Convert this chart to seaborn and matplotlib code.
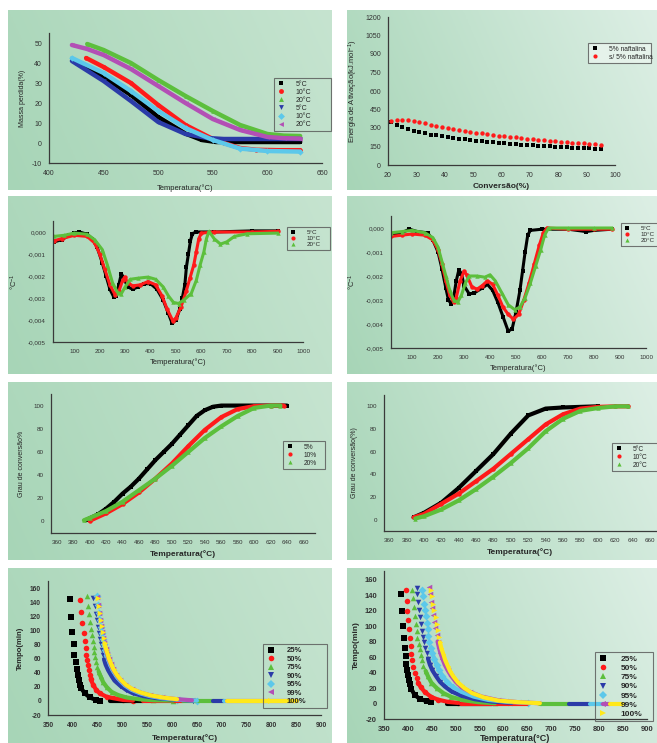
import matplotlib
matplotlib.use("Agg")
import matplotlib.pyplot as plt
from matplotlib.lines import Line2D
from matplotlib.ticker import MultipleLocator, FuncFormatter
import numpy as np
import pandas as pd
import seaborn as sns

W, H = 657, 743

BLACK, RED, GREEN = "#000000", "#ff1a1a", "#5cbf3c"
BLUE, CYAN, MAGENTA, YELLOW = "#2b3ba8", "#5cc8ea", "#b34fb5", "#ffe81a"

# --- panel 1: mass loss vs temperature ---
MASS_LABELS = ["5°C", "10°C", "20°C", "5°C", "10°C", "20°C"]
MASS_T_5A = [425, 450, 475, 500, 525, 540, 553, 580, 630]
MASS_5A = [40, 33, 24, 13, 4.7, 1.5, 0.5, 0.5, 0.5]
MASS_T_10A = [434, 450, 475, 500, 525, 550, 560, 575, 590, 610, 630]
MASS_10A = [42.5, 38, 30, 19, 9, 2, 0, -2.5, -3.4, -3.6, -3.6]
MASS_T_20A = [435, 450, 475, 500, 525, 550, 575, 600, 615, 630]
MASS_20A = [49.5, 46.5, 40, 31.5, 23.5, 16, 9, 4.5, 3.7, 3.5]
MASS_T_5B = [421, 450, 475, 500, 525, 545, 560, 630]
MASS_5B = [41, 31, 21, 10.5, 4.5, 2.5, 2, 2]
MASS_T_10B = [421, 450, 475, 500, 525, 550, 575, 600, 630]
MASS_10B = [42.5, 35, 26, 16, 7.5, 1.5, -2.8, -4, -4.3]
MASS_T_20B = [421, 435, 450, 475, 500, 525, 550, 575, 600, 615, 630]
MASS_20B = [49, 47, 44, 37, 28.5, 20, 12, 6.5, 3, 2.4, 2.2]

# --- panel 2: activation energy vs conversion ---
CONV = list(range(21, 96, 2))
EA_NAFT = [350, 325, 305, 290, 278, 267, 257, 247, 240, 233, 225, 220, 213, 207,
           201, 196, 192, 188, 184, 180, 176, 172, 169, 166, 163, 160, 157, 154,
           151, 148, 146, 143, 141, 138, 136, 134, 132, 130]
EA_SEM = [358, 368, 368, 365, 358, 348, 338, 328, 318, 309, 300, 292, 284, 276,
          269, 262, 256, 250, 244, 238, 233, 228, 223, 218, 213, 209, 204, 200,
          196, 192, 188, 185, 181, 178, 175, 172, 169, 166]

# --- panel 3: DTG (values in 1e-3 /°C) ---
DTG_A_T5 = [20, 50, 80, 100, 120, 150, 170, 190, 210, 225, 240, 255, 265, 275, 285,
            295, 310, 330, 350, 375, 400, 425, 450, 470, 485, 500, 515, 525, 535,
            541, 549, 557, 565, 580, 650, 800, 900]
DTG_A_5 = [-0.45, -0.35, -0.15, -0.05, 0.0, -0.1, -0.3, -0.7, -1.4, -2.0, -2.6,
           -2.95, -2.9, -2.4, -1.9, -2.1, -2.5, -2.6, -2.5, -2.35, -2.35, -2.6,
           -3.1, -3.7, -4.15, -4.0, -3.5, -3.0, -2.4, -1.6, -1.0, -0.4, -0.07,
           0.0, 0.0, 0.05, 0.05]
DTG_A_T10 = [20, 50, 100, 150, 180, 200, 220, 240, 260, 275, 290, 298, 310, 330,
             360, 390, 420, 445, 465, 488, 500, 520, 540, 555, 570, 580, 590, 600,
             650, 800, 900]
DTG_A_10 = [-0.4, -0.3, -0.15, -0.2, -0.5, -1.0, -1.7, -2.4, -2.85, -2.7, -2.2,
            -2.05, -2.3, -2.45, -2.4, -2.25, -2.4, -2.9, -3.5, -4.05, -3.9, -3.4,
            -2.7, -2.1, -1.5, -0.9, -0.3, -0.05, 0.0, 0.0, 0.03]
DTG_A_T20 = [20, 60, 100, 150, 180, 210, 230, 250, 270, 285, 300, 320, 350, 390,
             420, 450, 470, 490, 510, 530, 560, 580, 595, 610, 620, 630, 650, 675,
             700, 730, 780, 900]
DTG_A_20 = [-0.2, -0.15, -0.05, -0.1, -0.35, -0.8, -1.5, -2.3, -2.75, -2.8, -2.5,
            -2.15, -2.1, -2.05, -2.15, -2.5, -2.9, -3.2, -3.25, -3.1, -2.8, -2.2,
            -1.5, -0.9, -0.3, 0.03, -0.3, -0.55, -0.45, -0.2, -0.08, -0.05]

# --- panel 4: DTG second sample ---
DTG_B_T5 = [20, 60, 90, 120, 160, 180, 200, 215, 230, 240, 250, 260, 270, 280, 290,
            300, 320, 340, 370, 390, 410, 430, 450, 470, 485, 500, 515, 525, 535,
            545, 555, 600, 700, 770, 800, 870]
DTG_B_5 = [-0.3, -0.2, -0.05, -0.15, -0.2, -0.5, -1.0, -1.7, -2.5, -3.0, -3.15,
           -2.9, -2.2, -1.75, -1.9, -2.4, -2.75, -2.7, -2.5, -2.35, -2.6, -3.1,
           -3.7, -4.3, -4.2, -3.5, -2.6, -1.8, -1.0, -0.3, -0.1, -0.05, -0.05,
           -0.15, -0.1, -0.05]
DTG_B_T10 = [20, 60, 100, 150, 180, 200, 215, 230, 245, 260, 270, 285, 300, 310,
             330, 350, 370, 390, 410, 430, 450, 470, 490, 510, 530, 550, 570, 590,
             605, 620, 700, 800, 870]
DTG_B_10 = [-0.35, -0.3, -0.25, -0.3, -0.5, -0.9, -1.5, -2.2, -2.8, -3.1, -2.9,
            -2.2, -1.8, -1.95, -2.45, -2.55, -2.4, -2.2, -2.35, -2.8, -3.3, -3.6,
            -3.8, -3.6, -3.0, -2.3, -1.5, -0.7, -0.2, 0.0, -0.05, -0.05, -0.05]
DTG_B_T20 = [20, 60, 100, 150, 180, 200, 215, 230, 245, 260, 275, 290, 305, 320,
             350, 380, 400, 420, 445, 470, 495, 515, 535, 555, 575, 595, 610, 625,
             700, 800, 870]
DTG_B_20 = [-0.2, -0.15, -0.1, -0.2, -0.4, -0.8, -1.4, -2.0, -2.6, -3.0, -3.1,
            -2.8, -2.3, -2.0, -2.0, -2.05, -1.95, -2.2, -2.7, -3.2, -3.4, -3.3,
            -2.9, -2.3, -1.6, -0.9, -0.3, 0.0, 0.0, 0.0, 0.0]

# --- panel 5 / 6: degree of conversion ---
CONV_A_T5 = [395, 410, 420, 430, 440, 450, 460, 470, 480, 490, 500, 510, 520, 530,
             540, 550, 560, 600, 640]
CONV_A_5 = [1, 6, 11, 17, 24, 30, 37, 45, 53, 60, 67, 75, 83, 91, 96, 99, 100, 100, 100]
CONV_A_T10 = [400, 420, 440, 460, 480, 500, 520, 540, 560, 580, 600, 620, 636]
CONV_A_10 = [0.5, 7, 15, 25, 37, 50, 65, 79, 90, 97, 99.5, 100, 100]
CONV_A_T20 = [393, 400, 420, 440, 460, 480, 500, 520, 540, 560, 580, 600, 620, 632]
CONV_A_20 = [1, 3, 9, 17, 27, 37, 48, 60, 72, 82, 91, 98, 100, 100]

CONV_B_T5 = [388, 400, 420, 440, 460, 480, 500, 520, 540, 560, 600]
CONV_B_5 = [2, 6, 15, 28, 43, 58, 76, 92, 98, 99, 100]
CONV_B_T10 = [388, 400, 420, 440, 460, 480, 500, 520, 540, 560, 580, 600, 620, 635]
CONV_B_10 = [2, 5, 14, 23, 34, 45, 58, 71, 84, 93, 98, 99.5, 100, 100]
CONV_B_T20 = [390, 400, 420, 440, 460, 480, 500, 520, 540, 560, 580, 600, 620, 635]
CONV_B_20 = [1, 3, 9, 17, 27, 38, 50, 63, 78, 89, 96, 98.5, 100, 100]

# --- panel 7 / 8: time to reach conversion ---
TIME_LABELS = ["25%", "50%", "75%", "90%", "95%", "99%", "100%"]
TA_T25 = [395, 397, 399, 402, 403, 406, 408, 410, 412, 414, 417, 424, 434, 447, 454]
TA_25 = [146, 120, 98, 81, 66, 55, 45, 37, 30, 23, 18, 11, 5, 1.4, 0.5]
TA_T50 = [415, 417, 419, 422, 424, 426, 427, 429, 431, 433, 434, 436, 441, 447, 454,
          468, 481, 501, 521]
TA_50 = [144, 127, 111, 97, 85, 75, 66, 58, 51, 44, 37, 31, 23, 16, 11, 6, 4, 1.5, 0.5]
TA_T75 = [429, 431, 433, 434, 436, 438, 440, 442, 443, 445, 447, 449, 452, 456, 461,
          468, 478, 491, 508, 535, 562, 602]
TA_75 = [150, 136, 124, 113, 103, 94, 85, 77, 70, 63, 56, 49, 42, 35, 27, 20, 13,
         8.5, 5, 2.4, 1, 0.5]
TA_T90 = [441, 444, 446, 448, 450, 452, 454, 456, 458, 460, 463, 466, 471, 478, 484,
          495, 508, 521, 542, 569, 602, 642]
TA_90 = [147, 136, 124, 115, 105, 97, 89, 81, 73, 66, 59, 52, 44, 35.5, 29, 22,
         15.6, 11, 7, 4, 2, 0.5]
TA_T95 = [448, 450, 452, 454, 456, 458, 460, 462, 465, 468, 471, 475, 480, 487, 495,
          505, 518, 535, 555, 580, 610, 650]
TA_95 = [149, 137, 126, 116, 106, 97, 89, 81, 73, 66, 59, 52, 44, 36, 29, 22, 16,
         11, 7, 4, 2, 0.5]
TA_T99 = [449, 451, 453, 455, 457, 459, 461, 463, 466, 469, 472, 476, 481, 488, 496,
          506, 519, 536, 556, 580, 610, 640]
TA_99 = [148, 137, 126, 116, 107, 98, 90, 82, 74, 67, 60, 53, 45, 37, 30, 23, 17,
         12, 8, 5, 2.5, 1]
TA_T100 = [450, 452, 454, 456, 458, 460, 462, 464, 467, 470, 473, 477, 482, 489, 497,
           507, 520, 537, 557, 581, 610]
TA_100 = [147, 136, 126, 116, 107, 98, 90, 82, 74, 67, 60, 53, 45, 37, 30, 23, 17,
          12, 8, 5, 2.5]
TA_TAIL_START = [474, 542, 622, 683, 704, 710, 710]
TA_TAIL_END = [542, 622, 683, 704, 710, 851, 851]

TB_T25 = [385, 388, 390, 392, 393, 395, 396, 398, 400, 402, 404, 407, 414, 425, 439, 449]
TB_25 = [141, 119, 100, 84, 71, 61, 51, 43, 37, 30, 25, 19, 11, 6, 3, 1.7]
TB_T50 = [395, 398, 399, 400, 402, 404, 406, 407, 409, 411, 414, 418, 421, 427, 435,
          449, 463, 484, 505]
TB_50 = [146, 132, 120, 108, 96, 84, 74, 64, 56, 47, 40, 33, 27, 21, 15, 8.4, 5, 2, 0.8]
TB_T75 = [409, 411, 412, 414, 416, 418, 420, 423, 425, 427, 430, 432, 437, 442, 449,
          460, 474, 491, 516, 547, 582]
TB_75 = [147, 136, 124, 113, 102, 94, 85, 77, 70, 63, 56, 49, 42, 35, 27, 20, 13.5,
         8.4, 4.2, 1.7, 0.4]
TB_T90 = [418, 420, 422, 424, 425, 428, 430, 432, 434, 436, 439, 442, 446, 451, 458,
          467, 477, 491, 512, 540, 575, 617]
TB_90 = [149, 141, 131, 121, 112, 103, 94, 86, 79, 72, 65, 58, 50, 43, 36, 28, 22,
         15.6, 10, 5.5, 2.5, 0.8]
TB_T95 = [430, 432, 433, 435, 437, 439, 441, 443, 445, 448, 451, 455, 460, 465, 472,
          482, 495, 512, 537, 568, 610, 652]
TB_95 = [146, 139, 129, 121, 113, 104, 96, 87, 80, 72, 65, 58, 50, 43, 36, 28, 21,
         15, 9, 4.6, 2, 0.8]
TB_T99 = [444, 447, 449, 451, 453, 455, 457, 460, 462, 465, 468, 472, 477, 483, 490,
          500, 512, 530, 554, 589, 631, 673]
TB_99 = [150, 141, 131, 123, 114, 105, 97, 88, 80, 72, 65, 58, 50, 43, 36, 28, 21,
         15, 9, 4.2, 1.7, 0.4]
TB_T100 = [449, 451, 453, 455, 458, 460, 462, 465, 467, 470, 474, 478, 483, 488, 495,
           505, 518, 534, 558, 589, 631, 676]
TB_100 = [147, 139, 129, 121, 112, 103, 95, 86, 79, 71, 64, 56, 49, 42, 35, 27, 20,
          13.5, 8, 3.8, 1.7, 0.4]
TB_TAIL_START = [481, 510, 676, 736, 781, 809, 823]
TB_TAIL_END = [575, 650, 736, 781, 809, 823, 848]
TAIL_LEVEL = 0.0

TIME_COLORS = [BLACK, RED, GREEN, BLUE, CYAN, MAGENTA, YELLOW]
TIME_MARKERS = ["s", "o", "^", "v", "D", "<", ">"]
DENSE_BELOW = [22, 32, 45, 60, 75, 80, 85]


def fig_rect(x0, y0, x1, y1):
    return [x0 / W, 1 - y1 / H, (x1 - x0) / W, (y1 - y0) / H]


def panel_background(fig, box, right_colour):
    bg = fig.add_axes(fig_rect(*box), zorder=-5)
    u = np.linspace(0, 1, 120)[None, :]
    v = np.linspace(0, 1, 80)[:, None]
    t = np.clip(0.8 * u + 0.2 * (1 - v), 0, 1)[..., None]
    c0 = np.array(matplotlib.colors.to_rgb("#a7d5b7"))
    c1 = np.array(matplotlib.colors.to_rgb(right_colour))
    bg.imshow(c0 * (1 - t) + c1 * t, aspect="auto", extent=(0, 1, 0, 1))
    bg.set_axis_off()


def style_axes(ax, xlim, ylim, xmaj, xmin, ymaj, ymin, fs=5, bold=False):
    ax.set_facecolor("none")
    ax.set_xlim(*xlim)
    ax.set_ylim(*ylim)
    ax.xaxis.set_major_locator(MultipleLocator(xmaj))
    ax.xaxis.set_minor_locator(MultipleLocator(xmin))
    ax.yaxis.set_major_locator(MultipleLocator(ymaj))
    ax.yaxis.set_minor_locator(MultipleLocator(ymin))
    for s in ("top", "right"):
        ax.spines[s].set_visible(False)
    for s in ("left", "bottom"):
        ax.spines[s].set_color("#3a3a3a")
        ax.spines[s].set_linewidth(0.9)
    ax.tick_params(which="both", direction="out", color="#3a3a3a", width=0.7,
                   labelsize=fs, labelcolor="#333333", pad=2)
    ax.tick_params(which="major", length=3)
    ax.tick_params(which="minor", length=1.6)
    ax.grid(False)
    if bold:
        for lab in ax.get_xticklabels() + ax.get_yticklabels():
            lab.set_fontweight("bold")


def curve(ax, T, Y, colour, marker, lw=3.0, ms=3.2):
    sns.lineplot(x=T, y=Y, ax=ax, color=colour, lw=lw, marker=marker,
                 markersize=ms, markeredgewidth=0, sort=False, estimator=None)


def add_legend(fig, ax, labels, colours, markers, box, fs=5, bold=False, ms=3.5,
               face="none"):
    handles = [Line2D([], [], ls="none", marker=m, color=c, markersize=ms,
                      markeredgewidth=0) for c, m in zip(colours, markers)]
    x0, y0, x1, y1 = box
    leg = ax.legend(handles, labels, loc="upper left",
                    bbox_to_anchor=(x0 / W, 1 - y0 / H, (x1 - x0) / W, (y0 - y1) / H),
                    bbox_transform=fig.transFigure, mode="expand", frameon=True,
                    fontsize=fs, handlelength=1.2, handletextpad=1.5,
                    borderpad=0.4, labelspacing=0.15, borderaxespad=0)
    leg.get_frame().set_edgecolor("#555555")
    leg.get_frame().set_facecolor(face)
    leg.get_frame().set_linewidth(0.8)
    leg.get_frame().set_boxstyle("square", pad=0)
    if bold:
        for t in leg.get_texts():
            t.set_fontweight("bold")
    return leg


def decay_panel(ax, series, starts, ends):
    for (T, Y), c, m, cut, t0, t1 in zip(series, TIME_COLORS, TIME_MARKERS,
                                         DENSE_BELOW, starts, ends):
        df = pd.DataFrame({"T": T, "t": Y})
        dense = df[df["t"] <= cut]
        sns.lineplot(data=dense, x="T", y="t", ax=ax, color=c, lw=3.0,
                     sort=False, estimator=None)
        sns.scatterplot(data=df, x="T", y="t", ax=ax, color=c, marker=m, s=16,
                        linewidth=0)
        sns.lineplot(x=[t0, t1], y=[TAIL_LEVEL, TAIL_LEVEL], ax=ax, color=c, lw=3.0)


def main():
    sns.set_theme(style="white")
    plt.rcParams["font.family"] = ["Liberation Sans", "DejaVu Sans"]
    plt.rcParams["axes.unicode_minus"] = False
    plt.rcParams["mathtext.default"] = "regular"

    fig = plt.figure(figsize=(W / 100, H / 100), dpi=100)
    fig.patch.set_facecolor("white")

    panels = [(8, 10, 332, 190), (347, 10, 657, 190),
              (8, 196, 332, 374), (347, 196, 657, 374),
              (8, 382, 332, 560), (347, 382, 657, 560),
              (8, 568, 332, 743), (347, 568, 657, 743)]
    for i, box in enumerate(panels):
        panel_background(fig, box, "#c6e4d0" if i % 2 == 0 else "#ddefe5")

    # panel 1
    ax = fig.add_axes(fig_rect(49, 33, 322, 163))
    mass = [(MASS_T_5A, MASS_5A), (MASS_T_10A, MASS_10A), (MASS_T_20A, MASS_20A),
            (MASS_T_5B, MASS_5B), (MASS_T_10B, MASS_10B), (MASS_T_20B, MASS_20B)]
    cols = [BLACK, RED, GREEN, BLUE, CYAN, MAGENTA]
    marks = ["s", "o", "^", "v", "D", "<"]
    for (T, Y), c, m in zip(mass, cols, marks):
        curve(ax, T, Y, c, m, lw=3.2)
    style_axes(ax, (400, 650), (-10, 55), 50, 25, 10, 5)
    ax.set_xlabel("Temperatura(°C)", fontsize=5.5, labelpad=5)
    ax.set_ylabel("Massa perdida(%)", fontsize=5, labelpad=4)
    add_legend(fig, ax, MASS_LABELS, cols, marks, (274, 15, 331, 78))

    # panel 2
    ax = fig.add_axes(fig_rect(388, 17, 615, 165))
    sns.scatterplot(x=CONV, y=EA_NAFT, ax=ax, color=BLACK, marker="s", s=12, linewidth=0)
    sns.scatterplot(x=CONV, y=EA_SEM, ax=ax, color=RED, marker="o", s=10, linewidth=0)
    style_axes(ax, (20, 100), (0, 1200), 10, 5, 150, 75)
    ax.set_xlabel("Conversão(%)", fontsize=6, fontweight="bold", labelpad=3)
    ax.set_ylabel("Energia de Ativação(kJ.mol$^{-1}$)", fontsize=5.5, labelpad=4)
    add_legend(fig, ax, ["5% naftalina", "s/ 5% naftalina"], [BLACK, RED], ["s", "o"],
               (588, 28, 651, 43), fs=4.8, ms=3, face="#eaf5ee")

    dtg_fmt = FuncFormatter(lambda v, p: f"{v * 1e-3:.3f}".replace(".", ","))

    # panel 3
    ax = fig.add_axes(fig_rect(53, 221, 303, 342))
    for (T, Y), c, m in zip([(DTG_A_T5, DTG_A_5), (DTG_A_T10, DTG_A_10),
                             (DTG_A_T20, DTG_A_20)], [BLACK, RED, GREEN], ["s", "o", "^"]):
        curve(ax, T, Y, c, m, lw=2.2, ms=3.2)
    style_axes(ax, (16, 1000), (-5, 0.5), 100, 50, 1, 0.5, fs=4.5)
    ax.yaxis.set_major_formatter(dtg_fmt)
    ax.set_xlabel("Temperatura(°C)", fontsize=5.5, labelpad=3)
    ax.set_ylabel("°C$^{-1}$", fontsize=5.5, labelpad=6)
    add_legend(fig, ax, ["5°C", "10°C", "20°C"], [BLACK, RED, GREEN], ["s", "o", "^"],
               (287, 207, 330, 227), fs=4.5, ms=3)

    # panel 4
    ax = fig.add_axes(fig_rect(391, 216, 646, 348))
    for (T, Y), c, m in zip([(DTG_B_T5, DTG_B_5), (DTG_B_T10, DTG_B_10),
                             (DTG_B_T20, DTG_B_20)], [BLACK, RED, GREEN], ["s", "o", "^"]):
        curve(ax, T, Y, c, m, lw=2.2, ms=3.2)
    style_axes(ax, (19, 1000), (-5, 0.5), 100, 50, 1, 0.5, fs=4.5)
    ax.yaxis.set_major_formatter(dtg_fmt)
    ax.set_xlabel("Temperatura(°C)", fontsize=5.5, labelpad=3)
    ax.set_ylabel("°C$^{-1}$", fontsize=5.5, labelpad=6)
    add_legend(fig, ax, ["5°C", "10°C", "20°C"], [BLACK, RED, GREEN], ["s", "o", "^"],
               (621, 203, 672, 223), fs=4.5, ms=3)

    # panel 5
    ax = fig.add_axes(fig_rect(51, 394, 315, 533))
    for (T, Y), c, m in zip([(CONV_A_T5, CONV_A_5), (CONV_A_T10, CONV_A_10),
                             (CONV_A_T20, CONV_A_20)], [BLACK, RED, GREEN], ["s", "o", "^"]):
        curve(ax, T, Y, c, m, lw=3.0)
    style_axes(ax, (353, 674), (-10, 110), 20, 10, 20, 10, fs=4.5)
    ax.set_xlabel("Temperatura(°C)", fontsize=6, fontweight="bold", labelpad=4)
    ax.set_ylabel("Grau de conversão%", fontsize=5, labelpad=6)
    add_legend(fig, ax, ["5%", "10%", "20%"], [BLACK, RED, GREEN], ["s", "o", "^"],
               (283, 418, 325, 441), fs=4.8, ms=3)

    # panel 6
    ax = fig.add_axes(fig_rect(384, 395, 656, 531))
    for (T, Y), c, m in zip([(CONV_B_T5, CONV_B_5), (CONV_B_T10, CONV_B_10),
                             (CONV_B_T20, CONV_B_20)], [BLACK, RED, GREEN], ["s", "o", "^"]):
        curve(ax, T, Y, c, m, lw=3.0)
    style_axes(ax, (354, 667), (-10, 110), 20, 10, 20, 10, fs=4.5)
    ax.set_xlabel("Temperatura(°C)", fontsize=6, fontweight="bold", labelpad=4)
    ax.set_ylabel("Grau de conversão(%)", fontsize=5, labelpad=6)
    add_legend(fig, ax, ["5°C", "10°C", "20°C"], [BLACK, RED, GREEN], ["s", "o", "^"],
               (612, 420, 670, 443), fs=4.8, ms=3)

    # panel 7
    ax = fig.add_axes(fig_rect(48, 581, 321, 715))
    decay_panel(ax, [(TA_T25, TA_25), (TA_T50, TA_50), (TA_T75, TA_75), (TA_T90, TA_90),
                     (TA_T95, TA_95), (TA_T99, TA_99), (TA_T100, TA_100)],
                TA_TAIL_START, TA_TAIL_END)
    style_axes(ax, (350, 900), (-20, 171), 50, 25, 20, 10, fs=4.8, bold=True)
    ax.set_xlabel("Temperatura(°C)", fontsize=6, fontweight="bold", labelpad=4)
    ax.set_ylabel("Tempo(min)", fontsize=5.5, fontweight="bold", labelpad=4)
    add_legend(fig, ax, TIME_LABELS, TIME_COLORS, TIME_MARKERS, (263, 574, 327, 644),
               fs=5.5, bold=True, ms=4)

    # panel 8
    ax = fig.add_axes(fig_rect(384, 571, 647, 719))
    decay_panel(ax, [(TB_T25, TB_25), (TB_T50, TB_50), (TB_T75, TB_75), (TB_T90, TB_90),
                     (TB_T95, TB_95), (TB_T99, TB_99), (TB_T100, TB_100)],
                TB_TAIL_START, TB_TAIL_END)
    style_axes(ax, (350, 900), (-20, 171), 50, 25, 20, 10, fs=5.5, bold=True)
    ax.set_xlabel("Temperatura(°C)", fontsize=6.5, fontweight="bold", labelpad=1)
    ax.set_ylabel("Tempo(min)", fontsize=6, fontweight="bold", labelpad=3)
    add_legend(fig, ax, TIME_LABELS, TIME_COLORS, TIME_MARKERS, (595, 580, 653, 652),
               fs=6, bold=True, ms=4)

    fig.savefig("out.png", dpi=100, facecolor="white")


if __name__ == "__main__":
    main()
